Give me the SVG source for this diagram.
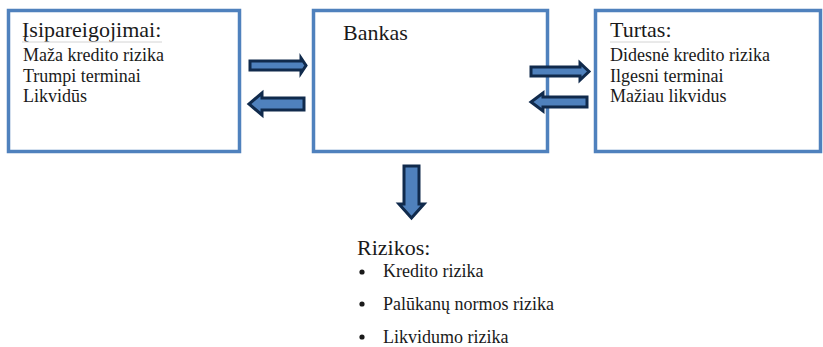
<svg xmlns="http://www.w3.org/2000/svg" width="823" height="347" viewBox="0 0 823 347">
  <style>
    .box { fill: #ffffff; stroke: #4F81BD; stroke-width: 3.5; }
    .arrow { fill: #4F81BD; stroke: #102A4C; stroke-width: 3; stroke-linejoin: miter; }
    .uline { stroke: #d4d4d4; stroke-width: 1; }
    .dot { fill: #1a1a1a; }
  </style>
  <rect width="823" height="347" fill="#ffffff"/>

  <g id="liabilities">
    <rect class="box" x="8.5" y="10.5" width="231" height="141"/>
    <text font-family="'Liberation Serif', serif" fill="#1a1a1a" font-size="22" x="22" y="37">Įsipareigojimai:</text>
    <line class="uline" x1="22" y1="42" x2="162" y2="42"/>
    <text font-family="'Liberation Serif', serif" fill="#1a1a1a" font-size="18" x="23" y="61">Maža kredito rizika</text>
    <text font-family="'Liberation Serif', serif" fill="#1a1a1a" font-size="18" x="23" y="82">Trumpi terminai</text>
    <text font-family="'Liberation Serif', serif" fill="#1a1a1a" font-size="18" x="23" y="102">Likvidūs</text>
  </g>

  <g id="bank">
    <rect class="box" x="313.5" y="10.5" width="234" height="141"/>
    <text font-family="'Liberation Serif', serif" fill="#1a1a1a" font-size="22" x="343" y="40">Bankas</text>
  </g>

  <g id="assets">
    <rect class="box" x="595.5" y="10.5" width="225" height="141"/>
    <text font-family="'Liberation Serif', serif" fill="#1a1a1a" font-size="22" x="610" y="37">Turtas:</text>
    <line class="uline" x1="610" y1="42" x2="670" y2="42"/>
    <text font-family="'Liberation Serif', serif" fill="#1a1a1a" font-size="18" x="610" y="61">Didesnė kredito rizika</text>
    <text font-family="'Liberation Serif', serif" fill="#1a1a1a" font-size="18" x="610" y="82">Ilgesni terminai</text>
    <text font-family="'Liberation Serif', serif" fill="#1a1a1a" font-size="18" x="610" y="102">Mažiau likvidus</text>
  </g>

  <g id="risks">
    <text font-family="'Liberation Serif', serif" fill="#1a1a1a" font-size="22" x="357" y="255">Rizikos:</text>
    <circle class="dot" cx="362" cy="272" r="2.6"/>
    <text font-family="'Liberation Serif', serif" fill="#1a1a1a" font-size="18" x="383" y="277">Kredito rizika</text>
    <circle class="dot" cx="362" cy="304" r="2.6"/>
    <text font-family="'Liberation Serif', serif" fill="#1a1a1a" font-size="18" x="383" y="310">Palūkanų normos rizika</text>
    <circle class="dot" cx="362" cy="337" r="2.6"/>
    <text font-family="'Liberation Serif', serif" fill="#1a1a1a" font-size="18" x="383" y="343">Likvidumo rizika</text>
  </g>

  <g id="connectors">
    <!-- liabilities -> bank -->
    <path class="arrow" d="M250,61 H301 V58 L306,65.5 L301,73 V70 H250 Z"/>
    <!-- bank -> liabilities -->
    <path class="arrow" d="M304,98 H262 V93 L249,104 L262,115 V110 H304 Z"/>
    <!-- bank -> assets -->
    <path class="arrow" d="M531,67 H580 V63 L589,71.5 L580,80 V76 H531 Z"/>
    <!-- assets -> bank -->
    <path class="arrow" d="M587,97 H543 V93 L531,102 L543,111 V107 H587 Z"/>
    <!-- bank -> risks -->
    <path class="arrow" d="M404,166 H419 V204 H424 L411.5,218 L399,204 H404 Z"/>
  </g>
</svg>
